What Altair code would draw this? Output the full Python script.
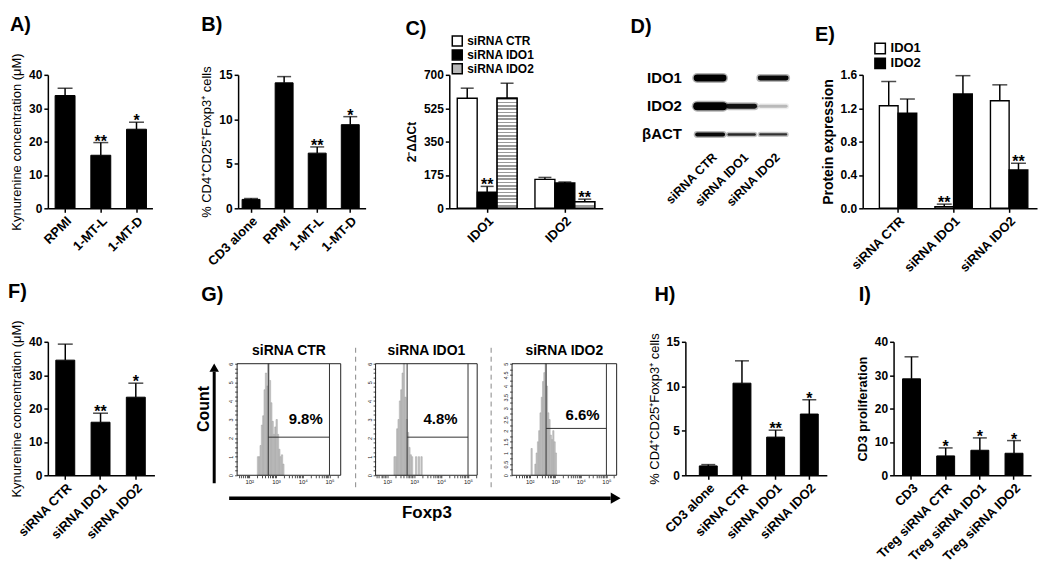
import json
import altair as alt
import pandas as pd

FONT = "Liberation Sans"

# ---------------- data ----------------
# A
A_cats = ["RPMI", "1-MT-L", "1-MT-D"]
A_vals = [33.8, 15.9, 23.7]
A_errs = [36.0, 19.7, 25.8]
A_stars = ["", "**", "*"]
A_yticks = [0, 10, 20, 30, 40]
# B
B_cats = ["CD3 alone", "RPMI", "1-MT-L", "1-MT-D"]
B_vals = [1.0, 14.1, 6.2, 9.4]
B_errs = [1.1, 14.8, 6.9, 10.3]
B_stars = ["", "", "**", "*"]
B_yticks = [0, 5, 10, 15]
# C
C_genes = ["IDO1", "IDO2"]
C_series = ["siRNA CTR", "siRNA IDO1", "siRNA IDO2"]
C_vals_IDO1 = [577, 84, 577]
C_errs_IDO1 = [630, 115, 656]
C_vals_IDO2 = [152, 133, 35]
C_errs_IDO2 = [162, 138, 48]
C_stars_IDO1 = ["", "**", ""]
C_stars_IDO2 = ["", "", "**"]
C_yticks = [0, 175, 350, 525, 700]
# D (western blot band thickness / darkness)
D_rows = ["IDO1", "IDO2", "βACT"]
D_lanes = ["siRNA CTR", "siRNA IDO1", "siRNA IDO2"]
D_thick = {"IDO1": [7, 0, 5], "IDO2": [8, 5, 3], "βACT": [4, 2.5, 2.2]}
D_dark = {"IDO1": [1.0, 0, 0.95], "IDO2": [1.0, 0.9, 0.22], "βACT": [0.95, 0.8, 0.75]}
# E
E_groups = ["siRNA CTR", "siRNA IDO1", "siRNA IDO2"]
E_series = ["IDO1", "IDO2"]
E_vals_IDO1 = [1.23, 0.02, 1.29]
E_errs_IDO1 = [1.52, 0.05, 1.48]
E_vals_IDO2 = [1.14, 1.37, 0.46]
E_errs_IDO2 = [1.31, 1.59, 0.54]
E_stars_IDO1 = ["", "**", ""]
E_stars_IDO2 = ["", "", "**"]
E_yticks = [0.0, 0.4, 0.8, 1.2, 1.6]
# F
F_cats = ["siRNA CTR", "siRNA IDO1", "siRNA IDO2"]
F_vals = [34.5, 15.9, 23.4]
F_errs = [39.3, 18.6, 27.6]
F_stars = ["", "**", "*"]
F_yticks = [0, 10, 20, 30, 40]
# G (flow histograms, log10 bin starts, counts)
G_titles = ["siRNA CTR", "siRNA IDO1", "siRNA IDO2"]
G_pct = ["9.8%", "4.8%", "6.6%"]
G_bin = 0.05
G1_starts = [2.30, 2.35, 2.40, 2.45, 2.50, 2.55, 2.60, 2.65, 2.70, 2.75, 2.80, 2.85, 2.90, 2.95, 3.00, 3.05, 3.10, 3.15, 3.20, 3.25]
G1_counts = [1.0, 1.0, 1.6, 2.7, 3.2, 4.6, 5.5, 4.8, 6.0, 5.1, 3.9, 2.9, 2.2, 2.6, 3.0, 2.2, 1.4, 1.0, 1.1, 0.6]
G2_starts = [2.25, 2.30, 2.35, 2.40, 2.45, 2.50, 2.55, 2.60, 2.65, 2.70, 2.75, 2.80, 2.85, 2.90, 2.95, 3.00, 3.05, 3.10, 3.15, 3.20, 3.25]
G2_counts = [1.0, 1.0, 2.5, 3.0, 4.0, 4.6, 5.5, 6.0, 4.2, 3.0, 2.3, 1.5, 1.1, 1.0, 0.0, 0.0, 1.0, 0.0, 1.0, 0.0, 1.0]
G3_starts = [2.05, 2.10, 2.15, 2.20, 2.25, 2.30, 2.35, 2.40, 2.45, 2.50, 2.55, 2.60, 2.65, 2.70, 2.75, 2.80, 2.85, 2.90, 2.95, 3.00]
G3_counts = [1.2, 0.0, 0.0, 0.5, 1.0, 1.5, 2.0, 2.8, 3.5, 4.2, 4.6, 5.0, 4.0, 2.8, 2.5, 1.8, 1.6, 2.0, 1.5, 1.0]
G_xexp = [[1.545, 5.42], [1.57, 5.34], [1.31, 5.40]]
G_ymax = [6, 6, 5]
G_gate_lo = [2.71, 2.74, 2.64]
G_gate_hi = [5.0, 5.0, 5.0]
G_gate_y = [2.05, 2.05, 2.1]
G_pct_x = [4.11, 3.98, 4.07]
G_pct_y = [3.0, 3.0, 2.68]
# H
H_cats = ["CD3 alone", "siRNA CTR", "siRNA IDO1", "siRNA IDO2"]
H_vals = [1.05, 10.35, 4.29, 6.88]
H_errs = [1.2, 12.86, 5.07, 8.49]
H_stars = ["", "", "**", "*"]
H_yticks = [0, 5, 10, 15]
# I
I_cats = ["CD3", "Treg siRNA CTR", "Treg siRNA IDO1", "Treg siRNA IDO2"]
I_vals = [28.9, 5.8, 7.5, 6.6]
I_errs = [35.5, 8.2, 11.2, 10.4]
I_stars = ["", "*", "*", "*"]
I_yticks = [0, 10, 20, 30, 40]

FOXP3_TITLE = "% CD4⁺CD25⁺Foxp3⁺ cells"
KYN_TITLE = "Kynurenine concentration (μM)"

ONE = pd.DataFrame({"k": [0]})
H_ROW = 134
H_HIST = 112
XLAB_SIZE = 13


def band_scale(domain, W, step, bw, first_center):
    n = len(domain)
    pi = 1 - bw / step
    po = max((W / step - n + pi) / 2, 0)
    free = W - step * (n - pi)
    start = first_center - bw / 2
    al = min(max(start / free, 0), 1) if free > 0 else 0.5
    return alt.Scale(domain=domain, paddingInner=pi, paddingOuter=po, align=al)


def xax(size=XLAB_SIZE):
    return alt.Axis(title=None, labelAngle=315, labelAlign="right", labelBaseline="top",
                    labelFontSize=size, labelFontWeight="bold", labelPadding=2, tickSize=4,
                    labelOverlap=False)


def yax(values, title, tsize, tweight, fmt="d"):
    return alt.Axis(values=values, tickCount=50, format=fmt, title=title, titleFontSize=tsize,
                    titleFontWeight=tweight, labelFontSize=12, labelFontWeight="bold",
                    tickSize=4, titlePadding=5, labelOverlap=False)


def spacer(w, h=1, letter=None, dx=0, off=40, layers=None):
    if layers:
        ch = alt.layer(*layers).properties(width=w, height=h)
    else:
        ch = alt.Chart(ONE).mark_point(opacity=0, size=1).properties(width=w, height=h)
    if letter:
        ch = ch.properties(title=alt.TitleParams(letter, anchor="start", frame="group", dx=dx,
                                                 offset=off, fontSize=20, fontWeight="bold",
                                                 baseline="alphabetic", font=FONT))
    return ch


def stars_layer(base, ychan="err:Q"):
    return base.mark_text(fontSize=16, fontWeight="bold", baseline="alphabetic", dy=4,
                          font=FONT, color="black").encode(y=ychan, text="star:N")


def bar_panel(cats, vals, errs, stars, W, ymax, yticks, ytitle, tsize, tweight, scale,
              cap=14, fmt="d"):
    df = pd.DataFrame({"cat": cats, "val": vals, "err": errs, "star": stars})
    x = alt.X("cat:N", sort=cats, scale=scale, axis=xax())
    base = alt.Chart(df).encode(x=x)
    bars = base.mark_bar(fill="black", stroke="black", strokeWidth=1).encode(
        y=alt.Y("val:Q", scale=alt.Scale(domain=[0, ymax], nice=False),
                axis=yax(yticks, ytitle, tsize, tweight, fmt)))
    rule = base.mark_rule(color="black", strokeWidth=1.5).encode(y="val:Q", y2="err:Q")
    tick = base.mark_tick(color="black", thickness=1.5, size=cap).encode(y="err:Q")
    return alt.layer(bars, rule, tick, stars_layer(base)).properties(width=W, height=H_ROW)


def stripes(n, c1="#9a9a9a", c2="#ffffff"):
    stops = []
    for i in range(n):
        a, m, b = i / n, (i + 0.5) / n, (i + 1) / n
        stops += [alt.GradientStop(color=c1, offset=a), alt.GradientStop(color=c1, offset=m),
                  alt.GradientStop(color=c2, offset=m), alt.GradientStop(color=c2, offset=b)]
    return alt.LinearGradient(gradient="linear", stops=stops, x1=0, x2=0, y1=0, y2=1)


def grouped_panel(groups, series, vals_by, errs_by, stars_by, W, ymax, yticks, ytitle, tsize,
                  tweight, scale, fills, legend, cap, fmt="d", hatch=None):
    rows = []
    for si, s in enumerate(series):
        for gi, g in enumerate(groups):
            rows.append({"grp": g, "ser": s, "val": vals_by[si][gi], "err": errs_by[si][gi],
                         "star": stars_by[si][gi]})
    df = pd.DataFrame(rows)
    x = alt.X("grp:N", sort=groups, scale=scale, axis=xax())
    xo = alt.XOffset("ser:N", sort=series, scale=alt.Scale(domain=series, paddingInner=0, paddingOuter=0))
    ys = alt.Scale(domain=[0, ymax], nice=False)
    base = alt.Chart(df).encode(x=x, xOffset=xo)
    bars = base.mark_bar(stroke="black", strokeWidth=1.4).encode(
        y=alt.Y("val:Q", scale=ys, axis=yax(yticks, ytitle, tsize, tweight, fmt)),
        fill=alt.Fill("ser:N", scale=alt.Scale(domain=series, range=fills), legend=legend))
    layers = [bars]
    if hatch:
        for (s, g, n) in hatch:
            sub = df[(df.ser == s) & (df.grp == g)]
            layers.append(alt.Chart(sub).mark_bar(fill=stripes(n), stroke="black", strokeWidth=1.4)
                          .encode(x=x, xOffset=xo, y=alt.Y("val:Q", scale=ys)))
    rule = base.mark_rule(color="black", strokeWidth=1.5).encode(y="val:Q", y2="err:Q")
    tick = base.mark_tick(color="black", thickness=1.5, size=cap).encode(y="err:Q")
    layers += [rule, tick, stars_layer(base)]
    return alt.layer(*layers).properties(width=W, height=H_ROW)


# ---------------- panels ----------------
pA = bar_panel(A_cats, A_vals, A_errs, A_stars, 105, 40, A_yticks, KYN_TITLE, 13, "normal",
               band_scale(A_cats, 105, 35.85, 20, 17.3), cap=15)
pB = bar_panel(B_cats, B_vals, B_errs, B_stars, 128, 15, B_yticks, FOXP3_TITLE, 13, "normal",
               band_scale(B_cats, 128, 33.2, 18, 13), cap=14)
legC = alt.Legend(orient="none", legendX=2, legendY=-40, title=None, symbolType="square",
                  symbolSize=100, symbolStrokeColor="black", symbolStrokeWidth=1.5,
                  labelFontSize=12, labelFontWeight="bold", rowPadding=-9, padding=0,
                  labelFont=FONT, labelColor="black")
C_vals_by = [[C_vals_IDO1[k], C_vals_IDO2[k]] for k in range(3)]
C_errs_by = [[C_errs_IDO1[k], C_errs_IDO2[k]] for k in range(3)]
C_stars_by = [[C_stars_IDO1[k], C_stars_IDO2[k]] for k in range(3)]
pC = grouped_panel(C_genes, C_series, C_vals_by, C_errs_by, C_stars_by,
                   154, 700, C_yticks, "2⁻ΔΔCt", 12, "bold",
                   band_scale(C_genes, 154, 78, 60, 38), ["#ffffff", "#000000", "#b8b8b8"],
                   legC, 13, hatch=[(C_series[2], C_genes[0], 33), (C_series[2], C_genes[1], 2)])

# D: blot
drows = []
for r in D_rows:
    for li, lane in enumerate(D_lanes):
        t = D_thick[r][li]
        if t > 0:
            drows.append({"row": r, "lane": li + 1, "t": t, "o": D_dark[r][li]})
ddf = pd.DataFrame(drows)
ddf["lo"] = ddf["lane"] - 0.41
ddf["hi"] = ddf["lane"] + 0.41
ddf["t2"] = ddf["t"] + 3
ddf["o2"] = ddf["o"] * 0.3
lane_expr = json.dumps(D_lanes) + "[datum.value - 1]"
dx_enc = alt.X("lo:Q", scale=alt.Scale(domain=[0.5, 3.5], nice=False, zero=False),
               axis=alt.Axis(values=[1, 2, 3], tickCount=10, labelExpr=lane_expr, title=None,
                             domain=False, ticks=False, labelAngle=315, labelAlign="right",
                             labelBaseline="top", labelFontSize=12.5, labelFontWeight="bold",
                             labelPadding=0, labelOverlap=False, labelFlush=False))
dy_enc = alt.Y("row:N", sort=D_rows,
               scale=alt.Scale(domain=D_rows, range=[-11, 74], paddingInner=0, paddingOuter=0),
               axis=alt.Axis(title=None, domain=False, ticks=False, labelFontSize=15,
                             labelFontWeight="bold", labelPadding=13))
dbase = alt.Chart(ddf)
dglow = dbase.mark_rule(color="black", strokeCap="round").encode(
    x=dx_enc, x2="hi:Q", y=dy_enc,
    strokeWidth=alt.StrokeWidth("t2:Q", scale=None), opacity=alt.Opacity("o2:Q", scale=None))
dcore = dbase.mark_rule(color="black", strokeCap="round").encode(
    x="lo:Q", x2="hi:Q", y="row:N",
    strokeWidth=alt.StrokeWidth("t:Q", scale=None), opacity=alt.Opacity("o:Q", scale=None))
pD = alt.layer(dglow, dcore).properties(width=95, height=76)

legE = alt.Legend(orient="none", legendX=11, legendY=-33, title=None, symbolType="square",
                  symbolSize=110, symbolStrokeColor="black", symbolStrokeWidth=1.5,
                  labelFontSize=13, labelFontWeight="bold", rowPadding=-4, padding=0,
                  labelFont=FONT, labelColor="black")
pE = grouped_panel(E_groups, E_series, [E_vals_IDO1, E_vals_IDO2], [E_errs_IDO1, E_errs_IDO2],
                   [E_stars_IDO1, E_stars_IDO2], 175, 1.6, E_yticks, "Protein expression", 14,
                   "bold", band_scale(E_groups, 175, 55.75, 37.5, 35.5), ["#ffffff", "#000000"],
                   legE, 15, fmt=".1f")

pF = bar_panel(F_cats, F_vals, F_errs, F_stars, 107, 40, F_yticks, KYN_TITLE, 13, "normal",
               band_scale(F_cats, 107, 35.4, 19, 17.5), cap=15)
pH = bar_panel(H_cats, H_vals, H_errs, H_stars, 142, 15, H_yticks, FOXP3_TITLE, 13, "normal",
               band_scale(H_cats, 142, 33.8, 18, 23), cap=14)
pI = bar_panel(I_cats, I_vals, I_errs, I_stars, 138, 40, I_yticks, "CD3 proliferation", 13, "bold",
               band_scale(I_cats, 138, 34.3, 18, 18), cap=14)

# G: histograms (plot is H_ROW tall, histogram frame occupies the lower H_HIST px)
XLAB = ("datum.value == 100 ? '10²' : datum.value == 1000 ? '10³' : "
        "datum.value == 10000 ? '10⁴' : datum.value == 100000 ? '10⁵' : ''")


def hist_panel(i, starts, counts, W, ytitle=None, xtitle=None):
    df = pd.DataFrame({"s": starts, "c": counts})
    df["x1"] = 10 ** df["s"]
    df["x2"] = 10 ** (df["s"] + G_bin)
    lo, hi = 10 ** G_xexp[i][0], 10 ** G_xexp[i][1]
    xs = alt.Scale(type="log", domain=[lo, hi], nice=False)
    ymax = G_ymax[i]
    ys = alt.Scale(domain=[0, ymax * H_ROW / H_HIST], nice=False, zero=True)
    minor = [m * 10 ** k for k in range(1, 6) for m in range(1, 10) if lo <= m * 10 ** k <= hi]
    xaxis = alt.Axis(values=minor, tickCount=500, labelExpr=XLAB, labelFontSize=6,
                     labelFontWeight="normal", tickSize=2.5, tickWidth=0.7, labelPadding=1,
                     domain=False, title=xtitle, labelOverlap=False, labelFlush=False,
                     labelColor="#222", titleFontSize=17, titleFontWeight="bold", titlePadding=20)
    yvals = [k * 0.25 for k in range(ymax * 4 + 1)]
    ylab = ("datum.value % 1 == 0 ? datum.label : ''" if ymax == 6
            else "(datum.value * 2) % 1 == 0 ? datum.label : ''")
    yaxis = alt.Axis(values=yvals, tickCount=500, format="~g", labelExpr=ylab, labelAngle=270,
                     labelAlign="center", labelBaseline="bottom", labelFontSize=5.5,
                     labelFontWeight="normal", tickSize=2.5, tickWidth=0.7, labelPadding=1,
                     domain=False, title=ytitle, labelOverlap=False, labelColor="#222",
                     titleFontSize=16, titleFontWeight="bold", titlePadding=17)
    rects = alt.Chart(df).mark_rect(fill="#c6c6c6", stroke="#a0a0a0", strokeWidth=0.5).encode(
        x=alt.X("x1:Q", scale=xs, axis=xaxis), x2="x2:Q",
        y=alt.Y("c:Q", scale=ys, axis=yaxis), y2=alt.datum(0))
    frame = alt.Chart(pd.DataFrame({"a": [lo], "b": [hi], "y0": [0], "y1": [ymax]})).mark_rect(
        fill="white", fillOpacity=0, stroke="#222", strokeWidth=1).encode(
        x="a:Q", x2="b:Q", y="y1:Q", y2="y0:Q")
    gv = alt.Chart(pd.DataFrame({"gx": [10 ** G_gate_lo[i], 10 ** G_gate_hi[i]]})).mark_rule(
        color="#333", strokeWidth=1).encode(x="gx:Q", y=alt.datum(ymax), y2=alt.datum(0))
    gh = alt.Chart(pd.DataFrame({"a": [10 ** G_gate_lo[i]], "b": [10 ** G_gate_hi[i]],
                                 "gy": [G_gate_y[i]]})).mark_rule(color="#333", strokeWidth=1).encode(
        x="a:Q", x2="b:Q", y="gy:Q")
    txt = alt.Chart(pd.DataFrame({"px": [10 ** G_pct_x[i]], "py": [G_pct_y[i]], "t": [G_pct[i]]})).mark_text(
        fontSize=15, fontWeight="bold", font=FONT, color="black").encode(x="px:Q", y="py:Q", text="t:N")
    return alt.layer(rects, frame, gv, gh, txt).properties(
        width=W, height=H_ROW,
        title=alt.TitleParams(G_titles[i], fontSize=14, fontWeight="bold", offset=3, dy=19,
                              font=FONT))


# decorations (Count / Foxp3 arrows, dashed separators), drawn in the gap after the first histogram
deco = [
    alt.Chart(ONE).mark_rule(color="black", strokeWidth=3).encode(
        x=alt.value(-127), y=alt.value(142), y2=alt.value(30)),
    alt.Chart(ONE).mark_point(shape="triangle-up", filled=True, size=90, color="black", opacity=1).encode(
        x=alt.value(-127), y=alt.value(26)),
    alt.Chart(ONE).mark_rule(color="black", strokeWidth=3.5).encode(
        x=alt.value(-112), x2=alt.value(271), y=alt.value(157)),
    alt.Chart(ONE).mark_point(shape="triangle-right", filled=True, size=130, color="black", opacity=1).encode(
        x=alt.value(276), y=alt.value(157)),
    alt.Chart(ONE).mark_rule(color="#888", strokeWidth=1, strokeDash=[5, 4]).encode(
        x=alt.value(15), y=alt.value(6), y2=alt.value(148)),
    alt.Chart(ONE).mark_rule(color="#888", strokeWidth=1, strokeDash=[5, 4]).encode(
        x=alt.value(151), y=alt.value(6), y2=alt.value(148)),
]

g1 = hist_panel(0, G1_starts, G1_counts, 104, ytitle="Count")
g2 = hist_panel(1, G2_starts, G2_counts, 102, xtitle="Foxp3")
g3 = hist_panel(2, G3_starts, G3_counts, 105)


def res(ch):
    return ch.resolve_scale(fill="independent", xOffset="independent").resolve_legend(fill="independent")


top = res(alt.hconcat(
    spacer(40, letter="A)", dx=2, off=24), pA,
    spacer(86, letter="B)", dx=49, off=24), pB,
    spacer(84, letter="C)", dx=40, off=20), pC,
    spacer(92, letter="D)", dx=28, off=22), pD,
    spacer(74, letter="E)", dx=26, off=14), pE,
    spacing=0, bounds="flush"))

bottom = res(alt.hconcat(
    spacer(40, letter="F)", dx=0, off=24), pF,
    spacer(83, letter="G)", dx=47, off=21), g1,
    spacer(35, h=H_ROW, layers=deco), g2,
    spacer(35), g3,
    spacer(69, letter="H)", dx=38, off=21), pH,
    spacer(67, letter="I)", dx=32, off=21), pI,
    spacing=0, bounds="flush"))

chart = res(alt.vconcat(top, bottom, spacing=7)).properties(
    padding={"left": 0, "top": 6, "right": 5, "bottom": 5}, background="white"
).configure_view(stroke=None).configure_axis(
    labelFont=FONT, titleFont=FONT, labelColor="black", titleColor="black",
    domainColor="black", tickColor="black", domainWidth=1.5, tickWidth=1.5, grid=False
).configure_title(font=FONT, color="black").configure_text(font=FONT).configure_legend(
    labelFont=FONT)

chart.save("out.html", embed_options={"renderer": "svg", "actions": False})
